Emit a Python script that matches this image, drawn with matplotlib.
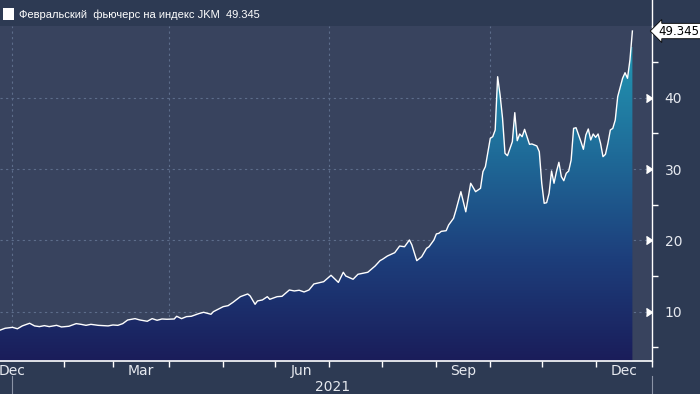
import numpy as np
import matplotlib
matplotlib.use('Agg')
import matplotlib.pyplot as plt
from matplotlib.colors import LinearSegmentedColormap
from matplotlib.patches import Rectangle
from matplotlib.lines import Line2D
from matplotlib.markers import CARETRIGHT

# Feb JKM futures (business-day axis)
dates = [
    '2020-12-24', '2020-12-29', '2021-01-01', '2021-01-05', '2021-01-07', '2021-01-12',
    '2021-01-14', '2021-01-18', '2021-01-20', '2021-01-22', '2021-01-27', '2021-01-29',
    '2021-02-03', '2021-02-08', '2021-02-10', '2021-02-12', '2021-02-16', '2021-02-19',
    '2021-02-25', '2021-03-01', '2021-03-03', '2021-03-05', '2021-03-09', '2021-03-12',
    '2021-03-16', '2021-03-19', '2021-03-23', '2021-03-25', '2021-03-29', '2021-03-31',
    '2021-04-05', '2021-04-06', '2021-04-08', '2021-04-12', '2021-04-14', '2021-04-19',
    '2021-04-21', '2021-04-26', '2021-04-27', '2021-05-03', '2021-05-05', '2021-05-07',
    '2021-05-12', '2021-05-17', '2021-05-18', '2021-05-20', '2021-05-21', '2021-05-25',
    '2021-05-27', '2021-05-28', '2021-06-02', '2021-06-04', '2021-06-09', '2021-06-11',
    '2021-06-15', '2021-06-17', '2021-06-21', '2021-06-23', '2021-06-29', '2021-07-02',
    '2021-07-07', '2021-07-09', '2021-07-12', '2021-07-15', '2021-07-19', '2021-07-23',
    '2021-07-28', '2021-07-30', '2021-08-02', '2021-08-04', '2021-08-09', '2021-08-11',
    '2021-08-13', '2021-08-17', '2021-08-18', '2021-08-20', '2021-08-24', '2021-08-26',
    '2021-08-27', '2021-08-31', '2021-09-01', '2021-09-02', '2021-09-03', '2021-09-07',
    '2021-09-08', '2021-09-10', '2021-09-13', '2021-09-15', '2021-09-17', '2021-09-21',
    '2021-09-23', '2021-09-27', '2021-09-28', '2021-09-29', '2021-10-01', '2021-10-04',
    '2021-10-05', '2021-10-06', '2021-10-07', '2021-10-08', '2021-10-11', '2021-10-12',
    '2021-10-14', '2021-10-15', '2021-10-18', '2021-10-19', '2021-10-20', '2021-10-21',
    '2021-10-25', '2021-10-26', '2021-10-28', '2021-10-29', '2021-11-01', '2021-11-02',
    '2021-11-03', '2021-11-04', '2021-11-05', '2021-11-08', '2021-11-09', '2021-11-10',
    '2021-11-11', '2021-11-12', '2021-11-15', '2021-11-16', '2021-11-17', '2021-11-18',
    '2021-11-19', '2021-11-23', '2021-11-24', '2021-11-25', '2021-11-26', '2021-11-29',
    '2021-11-30', '2021-12-01', '2021-12-02', '2021-12-03', '2021-12-06', '2021-12-07',
    '2021-12-08', '2021-12-09', '2021-12-10', '2021-12-13', '2021-12-14', '2021-12-16',
    '2021-12-17', '2021-12-20', '2021-12-21', '2021-12-22',
]
values = [
    7.29, 7.67, 7.80, 7.60, 8.00, 8.37,
    8.00, 7.90, 8.04, 7.90, 8.08, 7.85,
    7.95, 8.32, 8.22, 8.08, 8.22, 8.08,
    8.00, 8.13, 8.08, 8.32, 8.83, 9.02,
    8.83, 8.65, 9.02, 8.79, 8.97, 8.93,
    8.97, 9.35, 9.02, 9.30, 9.35, 9.72,
    9.91, 9.63, 10.00, 10.70, 10.84, 11.31,
    12.10, 12.48, 12.20, 11.03, 11.50, 11.64,
    12.10, 11.73, 12.10, 12.15, 13.04, 12.90,
    13.00, 12.76, 13.04, 13.88, 14.20, 15.10,
    14.10, 15.52, 15.00, 14.54, 15.24, 15.52,
    16.40, 17.15, 17.34, 17.80, 18.27, 19.20,
    19.10, 20.05, 19.35, 17.15, 17.70, 18.88,
    19.10, 20.05, 20.90, 20.98, 21.26, 21.35,
    22.15, 23.09, 24.25, 26.82, 24.00, 28.00,
    26.82, 27.29, 29.62, 30.33, 34.30, 34.53,
    35.47, 42.94, 40.38, 37.10, 32.20, 31.87,
    33.83, 37.90, 33.97, 34.91, 34.53, 35.56,
    33.46, 33.51, 33.23, 32.43, 28.00, 25.19,
    25.28, 26.60, 29.72, 28.00, 29.62, 30.94,
    28.93, 28.36, 29.40, 29.72, 31.26, 35.70,
    35.79, 33.83, 32.76, 34.77, 35.61, 34.07,
    34.91, 34.44, 34.91, 33.60, 31.73, 32.06,
    33.60, 35.47, 35.70, 36.87, 40.14, 42.72,
    43.50, 42.72, 45.30, 49.345,
]

month_starts = ['2021-01-01', '2021-02-01', '2021-03-01', '2021-04-01', '2021-05-01',
                '2021-06-01', '2021-07-01', '2021-08-01', '2021-09-01', '2021-10-01',
                '2021-11-01', '2021-12-01', '2022-01-01']
month_labels = ['Dec', 'Mar', 'Jun', 'Sep', 'Dec']
month_label_dates = [('2021-01-01', '2021-01-01'), ('2021-03-01', '2021-04-01'),
                     ('2021-06-01', '2021-07-01'), ('2021-09-01', '2021-10-01'),
                     ('2021-12-01', '2022-01-01')]
quarter_starts = ['2021-01-01', '2021-04-01', '2021-07-01', '2021-10-01']
year_label = '2021'
legend_text = 'Февральский  фьючерс на индекс JKM  49.345'

fig_bg = '#2d3a53'
plot_bg = '#38435e'
grid_col = '#5d6d8b'
txt_col = '#e6e9ef'
tick_font = ['Liberation Sans Narrow', 'DejaVu Sans']

base = '2021-01-01'
x = np.busday_count(base, np.array(dates, dtype='datetime64[D]'))
y = np.array(values)
ms = np.busday_count(base, np.array(month_starts, dtype='datetime64[D]'))
qs = np.busday_count(base, np.array(quarter_starts, dtype='datetime64[D]'))
lab_pos = [(np.busday_count(base, a) + np.busday_count(base, b)) / 2 for a, b in month_label_dates]
x_end = np.busday_count(base, '2022-01-01')

xmin, xmax = -5.1, x_end
ymin, ymax = 3.08, 50.05

fig = plt.figure(figsize=(7, 3.94), dpi=100, facecolor=fig_bg)
ax = fig.add_axes([0, 33 / 394, 652 / 700, (361 - 26) / 394])
ax.set_facecolor(plot_bg)
ax.set_xlim(xmin, xmax)
ax.set_ylim(ymin, ymax)

# gradient fill under the line
cmap = LinearSegmentedColormap.from_list('jkm', ['#1a1d5a', '#1d3f7c', '#1f6c99', '#2296b2'])
poly = ax.fill_between(x, y, ymin, color='none', lw=0)
grad = np.linspace(0, 1, 256).reshape(-1, 1)
img = ax.imshow(grad, extent=[xmin, xmax, ymin, 47], aspect='auto', cmap=cmap,
                origin='lower', zorder=1)
img.set_clip_path(poly.get_paths()[0], transform=ax.transData)
ax.plot(x, y, color='white', lw=1.0, zorder=3)

# grid
for v in [10, 20, 30, 40]:
    ax.axhline(v, color=grid_col, lw=0.8, ls=(0, (2, 3)), zorder=0.5)
for q in qs:
    ax.axvline(q, color=grid_col, lw=0.8, ls=(0, (2, 3)), zorder=0.5)

# spines
for s in ['top', 'left']:
    ax.spines[s].set_visible(False)
ax.spines['bottom'].set_color('white')
ax.spines['right'].set_color('white')
ax.spines['bottom'].set_linewidth(1.2)
ax.spines['right'].set_linewidth(1.0)
fig.lines.append(Line2D([652 / 700, 652 / 700], [1 - 26 / 394, 1], transform=fig.transFigure,
                        color='white', lw=1.0))

# y axis on the right
ax.yaxis.tick_right()
ax.set_yticks([10, 20, 30, 40])
ax.set_yticks([5, 15, 25, 35, 45], minor=True)
ax.tick_params(axis='y', which='major', length=0, pad=9, labelsize=10, labelcolor=txt_col)
ax.tick_params(axis='y', which='minor', length=4, color='white', width=1)
for lab in ax.get_yticklabels():
    lab.set_fontfamily(tick_font)
ax.plot([1] * 4, [10, 20, 30, 40], ls='none', marker=CARETRIGHT, ms=5.5, color='white',
        transform=ax.get_yaxis_transform(), clip_on=False, zorder=5)

# x axis
ax.set_xticks(lab_pos)
ax.set_xticklabels(month_labels)
ax.set_xticks(ms, minor=True)
ax.tick_params(axis='x', which='major', length=0, pad=2, labelsize=10, labelcolor=txt_col)
ax.tick_params(axis='x', which='minor', length=4, color='white', width=1)
for lab in ax.get_xticklabels():
    lab.set_fontfamily(tick_font)
ax.text(x_end / 2, -0.077, year_label, transform=ax.get_xaxis_transform(), ha='center',
        va='center', color=txt_col, fontsize=10, family=tick_font)
for xv in [0, x_end]:
    ax.plot([xv, xv], [-0.045, -0.2], color='#8a93a6', lw=0.8,
            transform=ax.get_xaxis_transform(), clip_on=False)

# last value tag
ax.annotate(f'{values[-1]:.3f}', xy=(1, values[-1]), xycoords=ax.get_yaxis_transform(),
            xytext=(4.5, 0), textcoords='offset points', ha='left', va='center',
            fontsize=8.5, color='black', family='DejaVu Sans',
            bbox=dict(boxstyle='larrow,pad=0.1', fc='white', ec='black', lw=0.6))

# legend strip
fig.patches.append(Rectangle((3 / 700, 1 - 20 / 394), 11 / 700, 12 / 394, transform=fig.transFigure,
                             fc='white', ec='none'))
fig.text(19 / 700, 1 - 14.5 / 394, legend_text, color='white', fontsize=8,
         family=['Liberation Sans', 'DejaVu Sans'], va='center', ha='left')

fig.savefig('out.png', dpi=100, facecolor=fig_bg)
